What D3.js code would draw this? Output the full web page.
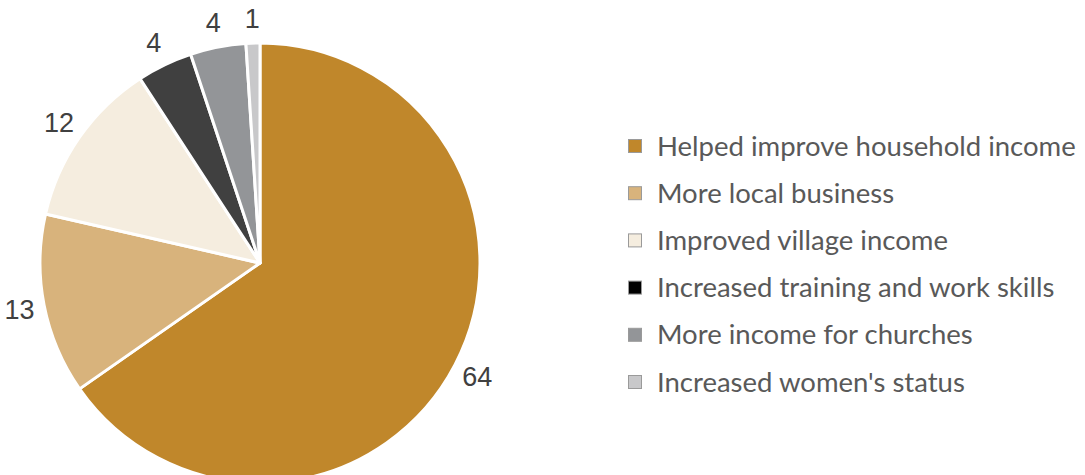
<!DOCTYPE html>
<html>
<head>
<meta charset="utf-8">
<script src="https://cdn.jsdelivr.net/npm/d3@7"></script>
<style>
  html, body { margin: 0; padding: 0; background: #fff; }
  svg { display: block; }
</style>
</head>
<body>
<svg id="chart" width="1085" height="475"></svg>
<script>
// Survey responses: reported benefits
const categories = [
  "Helped improve household income",
  "More local business",
  "Improved village income",
  "Increased training and work skills",
  "More income for churches",
  "Increased women's status"
];
const values = [64, 13, 12, 4, 4, 1];
const sliceColors = ["#C0872B", "#D8B37C", "#F5EDDF", "#404040", "#939598", "#C8C8CA"];
const legendColors = ["#C0872B", "#D8B37C", "#F5EDDF", "#000000", "#939598", "#C8C8CA"];

const svg = d3.select("#chart");
const cx = 260, cy = 263, radius = 220;

const pie = d3.pie().sort(null).value(d => d)(values);
const arc = d3.arc().innerRadius(0).outerRadius(radius);
const labelArc = d3.arc().innerRadius(radius + 25).outerRadius(radius + 25);

const g = svg.append("g").attr("transform", `translate(${cx},${cy})`);

g.selectAll("path.slice")
  .data(pie)
  .join("path")
  .attr("class", "slice")
  .attr("d", arc)
  .attr("fill", (d, i) => sliceColors[i])
  .attr("stroke", "#fff")
  .attr("stroke-width", 3)
  .attr("stroke-linejoin", "round");

g.selectAll("text.value")
  .data(pie)
  .join("text")
  .attr("class", "value")
  .attr("transform", d => `translate(${labelArc.centroid(d)})`)
  .attr("text-anchor", "middle")
  .attr("dy", "0.35em")
  .attr("font-family", "'Liberation Sans', Arial, sans-serif")
  .attr("font-size", 27)
  .attr("fill", "#404040")
  .text(d => d.data);

// Legend
const legend = svg.append("g").attr("transform", "translate(628,146)");
const rowH = 47.2;
const rows = legend.selectAll("g.item")
  .data(categories)
  .join("g")
  .attr("class", "item")
  .attr("transform", (d, i) => `translate(0,${i * rowH})`);

rows.append("rect")
  .attr("x", 0.5).attr("y", -6.5)
  .attr("width", 13).attr("height", 13)
  .attr("fill", (d, i) => legendColors[i])
  .attr("stroke", "#9a9a9a")
  .attr("stroke-width", 1);

rows.append("text")
  .attr("x", 29)
  .attr("y", 0)
  .attr("dy", "0.35em")
  .attr("font-family", "Lato, 'Open Sans', sans-serif")
  .attr("font-size", 27.5)
  .attr("fill", "#595959")
  .text(d => d);
</script>
</body>
</html>
